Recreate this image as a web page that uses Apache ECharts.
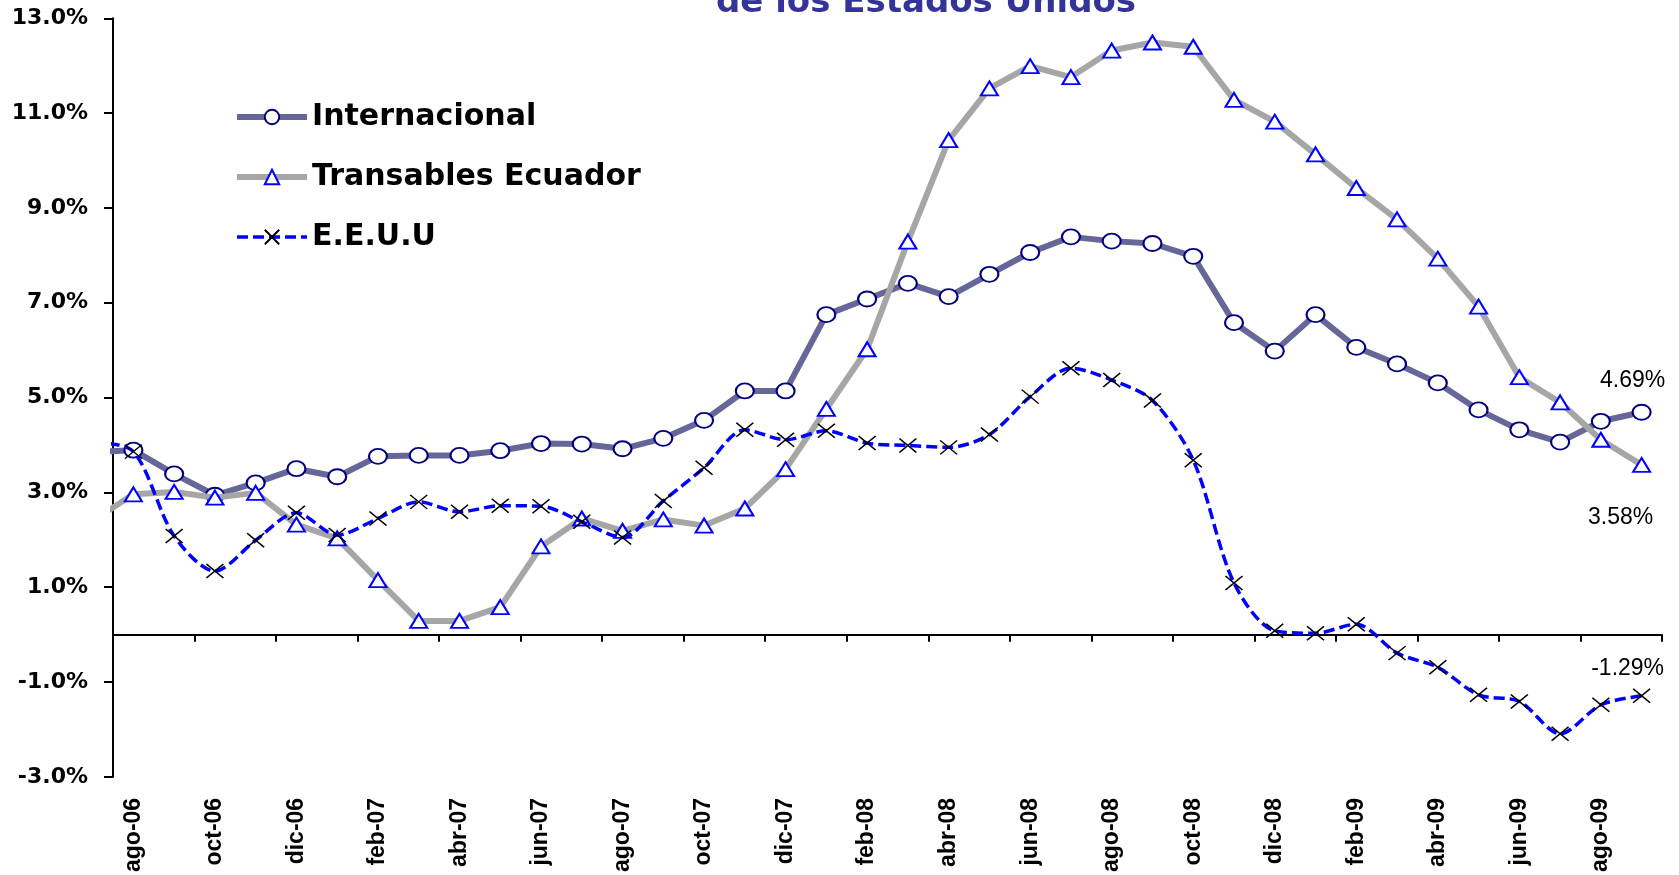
<!DOCTYPE html>
<html>
<head>
<meta charset="utf-8">
<title>Inflación</title>
<script src="https://cdn.jsdelivr.net/npm/echarts@6/dist/echarts.min.js"></script>
<style>
    html, body { margin: 0; padding: 0; background: #fff; }
    #chart { width: 1679px; height: 875px; }
</style>
</head>
<body>
<div id="chart"></div>
<script>
// meses: jul-06 queda fuera del área, solo se ve el tramo que entra por la izquierda
const months = [
    "jul-06", "ago-06", "sep-06", "oct-06", "nov-06", "dic-06",
    "ene-07", "feb-07", "mar-07", "abr-07", "may-07", "jun-07",
    "jul-07", "ago-07", "sep-07", "oct-07", "nov-07", "dic-07",
    "ene-08", "feb-08", "mar-08", "abr-08", "may-08", "jun-08",
    "jul-08", "ago-08", "sep-08", "oct-08", "nov-08", "dic-08",
    "ene-09", "feb-09", "mar-09", "abr-09", "may-09", "jun-09",
    "jul-09", "ago-09", "sep-09",
];

const internacional = [
    3.85, 3.89, 3.39, 2.94, 3.20, 3.50,
    3.33, 3.76, 3.78, 3.78, 3.88, 4.03,
    4.02, 3.92, 4.14, 4.52, 5.14, 5.14,
    6.75, 7.08, 7.41, 7.13, 7.60, 8.06,
    8.39, 8.30, 8.25, 7.98, 6.58, 5.98,
    6.75, 6.06, 5.71, 5.31, 4.74, 4.32,
    4.06, 4.50, 4.69,
];

const transables = [
    2.40, 2.96, 3.01, 2.89, 2.99, 2.32,
    2.03, 1.15, 0.29, 0.29, 0.58, 1.86,
    2.45, 2.19, 2.43, 2.30, 2.66, 3.49,
    4.76, 6.02, 8.29, 10.43, 11.52, 11.99,
    11.76, 12.32, 12.49, 12.40, 11.28, 10.82,
    10.13, 9.42, 8.76, 7.93, 6.92, 5.43,
    4.90, 4.11, 3.58,
];

const eeuu = [
    4.06, 3.86, 2.08, 1.34, 1.99, 2.57,
    2.10, 2.45, 2.80, 2.59, 2.72, 2.71,
    2.38, 2.05, 2.82, 3.52, 4.32, 4.11,
    4.30, 4.04, 3.99, 3.95, 4.22, 5.02,
    5.62, 5.37, 4.94, 3.68, 1.09, 0.08,
    0.03, 0.22, -0.39, -0.69, -1.27, -1.41,
    -2.09, -1.48, -1.29,
];

const yTickValues = [-3, -1, 1, 3, 5, 7, 9, 11, 13];

const wideFont = "DejaVu Sans";
const plainFont = "Liberation Sans";

// puntos sobre el eje numérico oculto: cada mes ocupa una unidad, jul-06 cae en -0.5
function toPoints(values, lastLabel) {
    return values.map((v, i) => {
        let item = { value: [i - 0.5, v] };
        if (i === values.length - 1) {
            item.label = Object.assign(
                {
                    show: true,
                    formatter: v.toFixed(2) + "%",
                    fontFamily: plainFont,
                    fontSize: 23,
                    color: "#000",
                },
                lastLabel
            );
        }
        return item;
    });
}

const visibleMonths = months.slice(1);

let option = {
    animation: false,
    backgroundColor: "#fff",
    graphic: [
        {
            type: "text",
            x: 926,
            y: 20,
            style: {
                text: "de los Estados Unidos",
                fontFamily: wideFont,
                fontWeight: "bold",
                fontSize: 34,
                fill: "#333399",
                align: "center",
                verticalAlign: "bottom",
            },
        },
    ],
    legend: {
        orient: "vertical",
        left: 234,
        top: 102,
        padding: 0,
        itemWidth: 70,
        itemHeight: 18,
        itemGap: 30,
        data: ["Internacional", "Transables Ecuador", "E.E.U.U"],
        textStyle: {
            fontFamily: wideFont,
            fontWeight: "bold",
            fontSize: 30,
            color: "#000",
        },
        lineStyle: { width: "inherit" },
    },
    grid: {
        left: 113,
        right: 17,
        top: 18.3,
        bottom: 98,
    },
    xAxis: [
        {
            // solo etiquetas de meses, abajo
            type: "category",
            data: visibleMonths,
            position: "bottom",
            axisLine: { show: false, onZero: false },
            axisTick: { show: false },
            axisLabel: {
                interval: 1,
                rotate: 90,
                margin: 21,
                fontFamily: plainFont,
                fontWeight: "bold",
                fontSize: 23,
                color: "#000",
            },
        },
        {
            // eje numérico oculto: línea del cero y marcas cada dos meses
            type: "value",
            position: "bottom",
            min: 0,
            max: visibleMonths.length,
            interval: 2,
            axisLine: { show: true, onZero: true, lineStyle: { color: "#000", width: 2 } },
            axisTick: { show: true, length: 7, lineStyle: { color: "#000", width: 2 } },
            axisLabel: { show: false },
            splitLine: { show: false },
        },
    ],
    yAxis: {
        type: "value",
        min: yTickValues[0],
        max: yTickValues[yTickValues.length - 1],
        interval: yTickValues[1] - yTickValues[0],
        axisLine: { show: true, lineStyle: { color: "#000", width: 2 } },
        axisTick: { show: true, length: 9, lineStyle: { color: "#000", width: 2 } },
        splitLine: { show: false },
        axisLabel: {
            margin: 25,
            fontFamily: wideFont,
            fontWeight: "bold",
            fontSize: 22,
            color: "#000",
            formatter: (v) => v.toFixed(1) + "%",
        },
    },
    series: [
        {
            name: "Internacional",
            type: "line",
            xAxisIndex: 1,
            data: toPoints(internacional, { position: "top", distance: 12, offset: [-9, 0] }),
            symbol: "circle",
            symbolSize: [18, 15],
            lineStyle: { color: "#666699", width: 6 },
            itemStyle: { color: "#fff", borderColor: "#000080", borderWidth: 2 },
            z: 2,
        },
        {
            name: "Transables Ecuador",
            type: "line",
            xAxisIndex: 1,
            data: toPoints(transables, { position: "bottom", distance: 33, offset: [-21, 0] }),
            symbol: "triangle",
            symbolSize: [17, 14],
            lineStyle: { color: "#a6a6a6", width: 6 },
            itemStyle: { color: "#fff", borderColor: "#0000ff", borderWidth: 2 },
            z: 3,
        },
        {
            name: "E.E.U.U",
            type: "line",
            xAxisIndex: 1,
            smooth: 0.3,
            data: toPoints(eeuu, { position: "top", distance: 8, offset: [-14, 0] }),
            symbol: "path://M0,0L10,10M10,0L0,10",
            symbolSize: [17, 14],
            lineStyle: { color: "#0000ff", width: 3.5, type: [11, 5] },
            itemStyle: { color: "#000", borderColor: "#000", borderWidth: 1.5 },
            z: 4,
        },
    ],
};

let chartDom = document.getElementById("chart");
const chartObj = echarts.init(chartDom);
chartObj.setOption(option);

window.addEventListener("resize", function () {
    chartObj.resize();
});
</script>
</body>
</html>
